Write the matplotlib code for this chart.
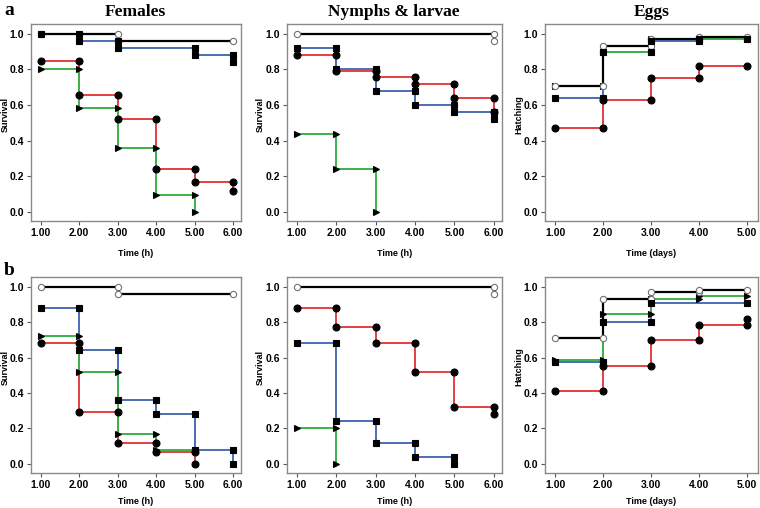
import matplotlib.pyplot as plt
from matplotlib.ticker import FormatStrFormatter

plt.rcParams['font.family'] = ['Liberation Sans', 'DejaVu Sans']

hours = [1, 2, 3, 4, 5, 6]
days = [1, 2, 3, 4, 5]

# row a - survival / hatching levels at each time point
fem_a_black = [1.0, 1.0, 0.96, 0.96, 0.96, 0.96]
fem_a_blue = [1.0, 0.96, 0.92, 0.92, 0.88, 0.84]
fem_a_red = [0.85, 0.655, 0.52, 0.24, 0.17, 0.12]
fem_a_green = [0.80, 0.585, 0.36, 0.095, 0.0]

nym_a_black = [1.0, 1.0, 1.0, 1.0, 1.0, 0.96]
nym_a_blue = [0.92, 0.80, 0.68, 0.60, 0.56, 0.52]
nym_a_red = [0.88, 0.79, 0.76, 0.72, 0.64, 0.56]
nym_a_green = [0.44, 0.24, 0.0]

egg_a_black = [0.71, 0.93, 0.97, 0.98, 0.98]
egg_a_blue = [0.64, 0.90, 0.96, 0.97, 0.97]
egg_a_red = [0.47, 0.63, 0.75, 0.82, 0.82]
egg_a_green = [0.71, 0.90, 0.97, 0.97, 0.97]

# row b
fem_b_black = [1.0, 1.0, 0.96, 0.96, 0.96, 0.96]
fem_b_blue = [0.88, 0.64, 0.36, 0.28, 0.08, 0.0]
fem_b_red = [0.68, 0.29, 0.12, 0.065, 0.0]
fem_b_green = [0.72, 0.52, 0.17, 0.08, 0.08]

nym_b_black = [1.0, 1.0, 1.0, 1.0, 1.0, 0.96]
nym_b_blue = [0.68, 0.24, 0.12, 0.04, 0.0]
nym_b_red = [0.88, 0.77, 0.68, 0.52, 0.32, 0.28]
nym_b_green = [0.20, 0.0]

egg_b_black = [0.71, 0.93, 0.97, 0.98, 0.98]
egg_b_blue = [0.575, 0.80, 0.91, 0.91, 0.91]
egg_b_red = [0.41, 0.555, 0.70, 0.785, 0.82]
egg_b_green = [0.585, 0.845, 0.93, 0.95, 0.95]

RED = '#e2403f'
GREEN = '#3db24a'
BLUE = '#4a6db4'

styles = {
    'red': dict(color=RED, marker='o', mfc='black', mec='black', ms=5),
    'blue': dict(color=BLUE, marker='s', mfc='black', mec='black', ms=4.3),
    'green': dict(color=GREEN, marker='>', mfc='black', mec='black', ms=3.8),
    'black': dict(color='black', marker='o', mfc='white', mec='#707070', ms=4.5),
}

W, H = 760, 508
fig = plt.figure(figsize=(W / 100, H / 100), dpi=100)


def make_ax(left, top, right, bottom):
    return fig.add_axes([left / W, 1 - bottom / H, (right - left) / W, (bottom - top) / H])


def marker_points(t, lev):
    xs, ys = [t[0]], [lev[0]]
    for k in range(1, len(lev)):
        if lev[k] != lev[k - 1]:
            xs += [t[k], t[k]]
            ys += [lev[k - 1], lev[k]]
        elif k == len(lev) - 1:
            xs.append(t[k])
            ys.append(lev[k])
    return xs, ys


def draw_panel(ax, times, series, xlabel, ylabel, xlab_y):
    for name in ['red', 'blue', 'green', 'black']:
        lev = series[name]
        st = styles[name]
        lw = 1.6 if name == 'black' else 1.4
        ax.step(times[:len(lev)], lev, where='post', color=st['color'], lw=lw, zorder=2)
    for name in ['green', 'black', 'red', 'blue']:
        lev = series[name]
        st = styles[name]
        xs, ys = marker_points(times[:len(lev)], lev)
        ax.plot(xs, ys, ls='none', marker=st['marker'], ms=st['ms'],
                mfc=st['mfc'], mec=st['mec'], mew=0.8, zorder=3)
    if len(times) == 6:
        ax.set_xlim(0.74, 6.2)
    else:
        ax.set_xlim(0.79, 5.22)
    ax.set_ylim(-0.05, 1.055)
    ax.set_xticks(times)
    ax.set_yticks([0.0, 0.2, 0.4, 0.6, 0.8, 1.0])
    ax.xaxis.set_major_formatter(FormatStrFormatter('%.2f'))
    ax.yaxis.set_major_formatter(FormatStrFormatter('%.1f'))
    ax.tick_params(labelsize=7.5, length=3, width=0.8, color='#555555', pad=2)
    for lab in ax.get_xticklabels() + ax.get_yticklabels():
        lab.set_fontweight('bold')
    for sp in ax.spines.values():
        sp.set_color('#8a8a8a')
        sp.set_linewidth(1)
    ax.set_xlabel(xlabel, fontsize=6.5, fontweight='bold')
    ax.set_ylabel(ylabel, fontsize=6.5, fontweight='bold')
    ax.xaxis.set_label_coords(0.5, xlab_y)
    ax.yaxis.set_label_coords(-0.1, 0.54)


cols = [(30.7, 240.7), (286.7, 501.7), (545, 757.7)]
rows = [(24, 221), (277, 472.7)]
xlab_pos = [-0.14, -0.125]

panels = [
    [(hours, dict(red=fem_a_red, blue=fem_a_blue, green=fem_a_green, black=fem_a_black), 'Time (h)', 'Survival'),
     (hours, dict(red=nym_a_red, blue=nym_a_blue, green=nym_a_green, black=nym_a_black), 'Time (h)', 'Survival'),
     (days, dict(red=egg_a_red, blue=egg_a_blue, green=egg_a_green, black=egg_a_black), 'Time (days)', 'Hatching')],
    [(hours, dict(red=fem_b_red, blue=fem_b_blue, green=fem_b_green, black=fem_b_black), 'Time (h)', 'Survival'),
     (hours, dict(red=nym_b_red, blue=nym_b_blue, green=nym_b_green, black=nym_b_black), 'Time (h)', 'Survival'),
     (days, dict(red=egg_b_red, blue=egg_b_blue, green=egg_b_green, black=egg_b_black), 'Time (days)', 'Hatching')],
]

titles = ['Females', 'Nymphs & larvae', 'Eggs']

for r, (top, bottom) in enumerate(rows):
    for c, (left, right) in enumerate(cols):
        ax = make_ax(left, top, right, bottom)
        times, series, xl, yl = panels[r][c]
        draw_panel(ax, times, series, xl, yl, xlab_pos[r])
        if r == 0:
            ax.set_title(titles[c], fontsize=12.5, fontweight='bold',
                         family='Liberation Serif', pad=6)

fig.text(4 / W, 1 - 15 / H, 'a', fontsize=14, fontweight='bold', family='Liberation Serif')
fig.text(4 / W, 1 - 275 / H, 'b', fontsize=14, fontweight='bold', family='Liberation Serif')

fig.savefig('out.png', dpi=100)
